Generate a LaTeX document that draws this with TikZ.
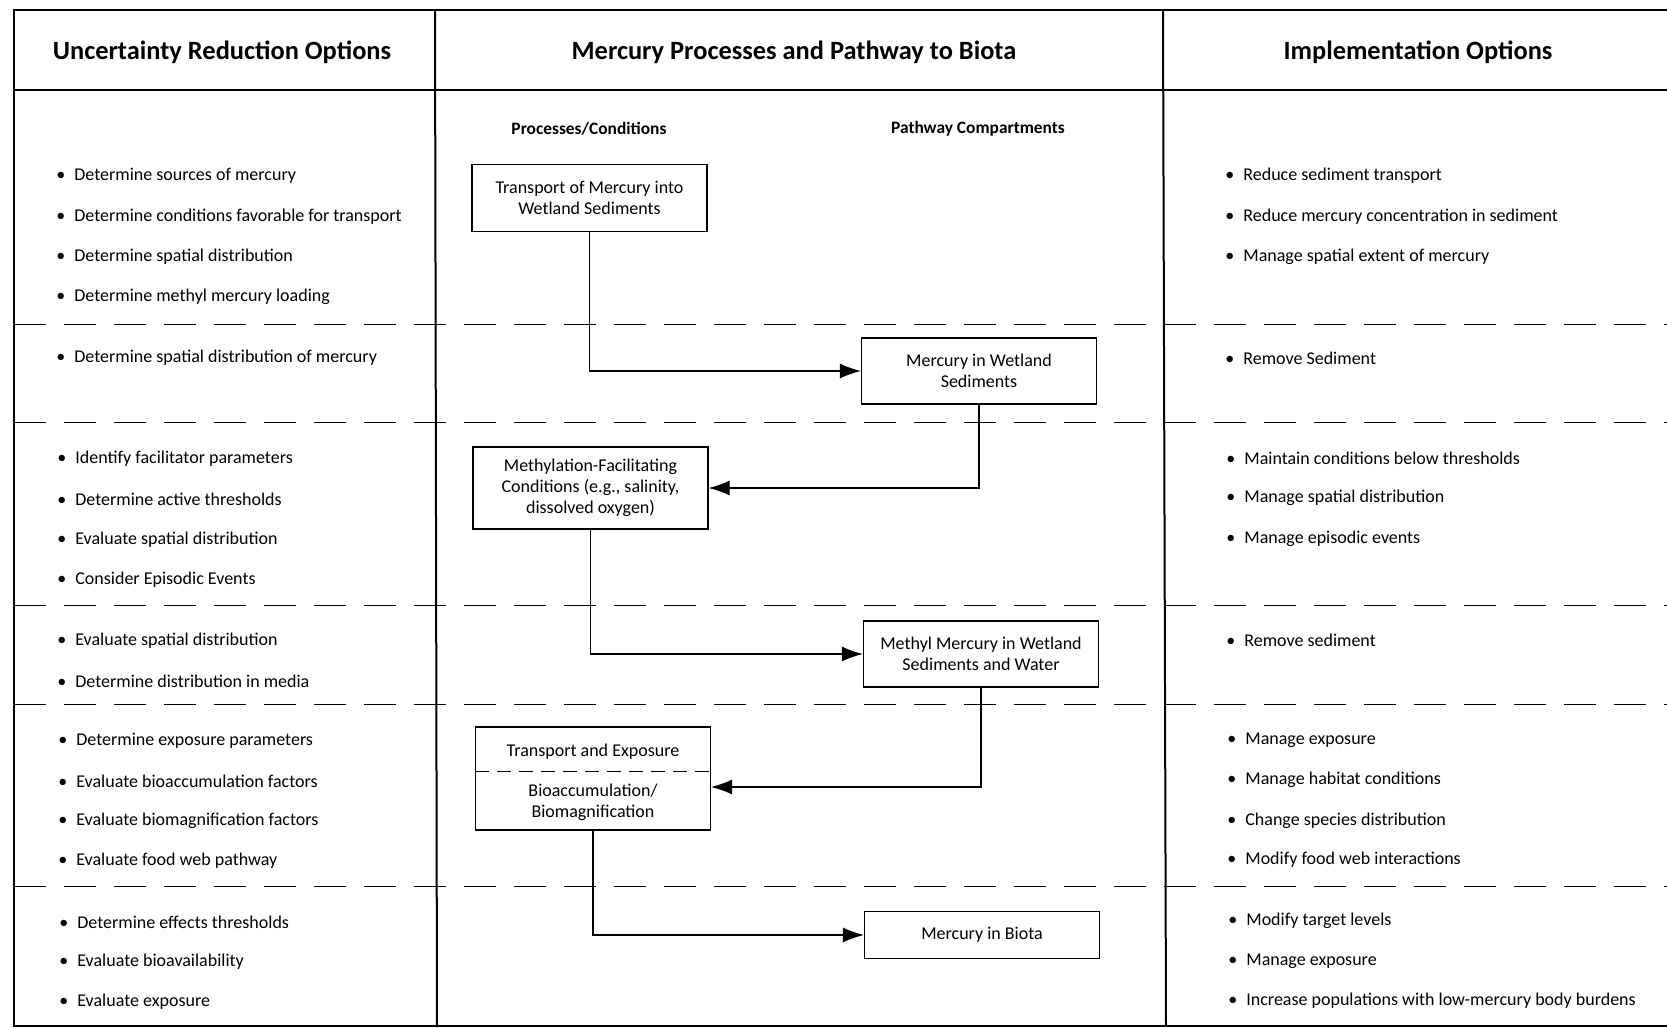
\documentclass[tikz,border=0pt]{standalone}
\usepackage{fontspec}
\setmainfont{Carlito}
\usetikzlibrary{arrows.meta,positioning}

\tikzset{
  frame/.style={line width=1pt},
  rowline/.style={line width=0.5pt, dash pattern=on 16pt off 9pt},
  head/.style={font=\bfseries\fontsize{13.2}{15}\selectfont},
  subhead/.style={font=\bfseries\fontsize{8.7}{10}\selectfont},
  item/.style={anchor=west, inner sep=0pt, yshift=-1.5pt, font=\fontsize{9}{10.5}\selectfont},
  procbox/.style={draw, line width=0.6pt, minimum width=117.5pt, align=center,
    inner sep=2pt, font=\fontsize{9}{10.5}\selectfont},
  boxtext/.style={inner sep=0pt, align=center, font=\fontsize{9}{10.5}\selectfont},
  flow/.style={line width=0.6pt, -{Latex[length=10.5pt,width=7.5pt]}}
}

\begin{document}
\begin{tikzpicture}[x=0.5pt,y=-0.5pt]
    \useasboundingbox (0,0) rectangle (1667,1028);

    % table frame
    \draw[frame] (1667,10) -- (14,10) -- (14,1026) -- (1667,1026);
    \draw[frame] (14,90) -- (1667,90);
    \draw[frame] (435,10) -- (437,1026);
    \draw[frame] (1163,10) -- (1166,1026);

    % row separators
    \draw[rowline] (14,324) -- (1667,324);
    \draw[rowline] (14,422) -- (1667,422);
    \draw[rowline] (14,605) -- (1667,605);
    \draw[rowline] (14,704) -- (1667,704);
    \draw[rowline] (14,886) -- (1667,886);

    % column headings
    \node[head] (hunc) at (222,52) {Uncertainty Reduction Options};
    \node[head] (hmerc) at (794,52) {Mercury Processes and Pathway to Biota};
    \node[head] (himpl) at (1418,52) {Implementation Options};
    \node[subhead] (hproc) at (589,129) {Processes/Conditions};
    \node[subhead] (hpath) at (978,129) {Pathway Compartments};

    % pathway boxes
    \node[procbox, minimum height=33.5pt] (trans) at (589.5,198) {Transport of Mercury into\\Wetland Sediments};
    \node[procbox, minimum height=33pt] (sedi) at (979,371) {Mercury in Wetland\\Sediments};
    \node[procbox, minimum height=41pt] (methc) at (590.5,488) {Methylation-Facilitating\\Conditions (e.g., salinity,\\dissolved oxygen)};
    \node[procbox, minimum height=33pt] (mehg) at (981,654) {Methyl Mercury in Wetland\\Sediments and Water};
    \node[procbox, minimum height=51.5pt] (expo) at (593,778.5) {};
    \node[boxtext] (expotop) at (593,752) {Transport and Exposure};
    \node[boxtext] (expobot) at (593,802) {Bioaccumulation/\\Biomagnification};
    \draw[line width=0.5pt, dash pattern=on 7pt off 4pt] (expo.west |- 0,771) -- (expo.east |- 0,771);
    \node[procbox, minimum height=23.5pt] (biota) at (982,935) {Mercury in Biota};

    % pathway arrows
    \draw[flow] (trans.south) |- (sedi.west);
    \draw[flow] (sedi.south) |- (methc.east);
    \draw[flow] (methc.south) |- (mehg.west);
    \draw[flow] (mehg.south) |- ([yshift=-4.25pt]expo.east);
    \draw[flow] (expo.south) |- (biota.west);

    % uncertainty reduction options
    \node[item] (u1) at (56,173) {\textbullet\enspace Determine sources of mercury};
    \node[item] (u2) at (56,214) {\textbullet\enspace Determine conditions favorable for transport};
    \node[item] (u3) at (56,254) {\textbullet\enspace Determine spatial distribution};
    \node[item] (u4) at (56,294) {\textbullet\enspace Determine methyl mercury loading};
    \node[item] (u5) at (56,355) {\textbullet\enspace Determine spatial distribution of mercury};
    \node[item] (u6) at (57,456) {\textbullet\enspace Identify facilitator parameters};
    \node[item] (u7) at (57,496) {\textbullet\enspace Determine active thresholds};
    \node[item] (u8) at (57,537) {\textbullet\enspace Evaluate spatial distribution};
    \node[item] (u9) at (57,577) {\textbullet\enspace Consider Episodic Events};
    \node[item] (u10) at (57,638) {\textbullet\enspace Evaluate spatial distribution};
    \node[item] (u11) at (57,678) {\textbullet\enspace Determine distribution in media};
    \node[item] (u12) at (58,738) {\textbullet\enspace Determine exposure parameters};
    \node[item] (u13) at (58,778) {\textbullet\enspace Evaluate bioaccumulation factors};
    \node[item] (u14) at (58,818) {\textbullet\enspace Evaluate biomagnification factors};
    \node[item] (u15) at (58,858) {\textbullet\enspace Evaluate food web pathway};
    \node[item] (u16) at (59,919) {\textbullet\enspace Determine effects thresholds};
    \node[item] (u17) at (59,959) {\textbullet\enspace Evaluate bioavailability};
    \node[item] (u18) at (59,999) {\textbullet\enspace Evaluate exposure};

    % implementation options
    \node[item] (m1) at (1225,173) {\textbullet\enspace Reduce sediment transport};
    \node[item] (m2) at (1225,214) {\textbullet\enspace Reduce mercury concentration in sediment};
    \node[item] (m3) at (1225,254) {\textbullet\enspace Manage spatial extent of mercury};
    \node[item] (m4) at (1225,355) {\textbullet\enspace Remove Sediment};
    \node[item] (m5) at (1226,455) {\textbullet\enspace Maintain conditions below thresholds};
    \node[item] (m6) at (1226,495) {\textbullet\enspace Manage spatial distribution};
    \node[item] (m7) at (1226,536) {\textbullet\enspace Manage episodic events};
    \node[item] (m8) at (1226,637) {\textbullet\enspace Remove sediment};
    \node[item] (m9) at (1227,737) {\textbullet\enspace Manage exposure};
    \node[item] (m10) at (1227,777) {\textbullet\enspace Manage habitat conditions};
    \node[item] (m11) at (1227,818) {\textbullet\enspace Change species distribution};
    \node[item] (m12) at (1227,857) {\textbullet\enspace Modify food web interactions};
    \node[item] (m13) at (1228,918) {\textbullet\enspace Modify target levels};
    \node[item] (m14) at (1228,958) {\textbullet\enspace Manage exposure};
    \node[item] (m15) at (1228,998) {\textbullet\enspace Increase populations with low-mercury body burdens};
\end{tikzpicture}
\end{document}
